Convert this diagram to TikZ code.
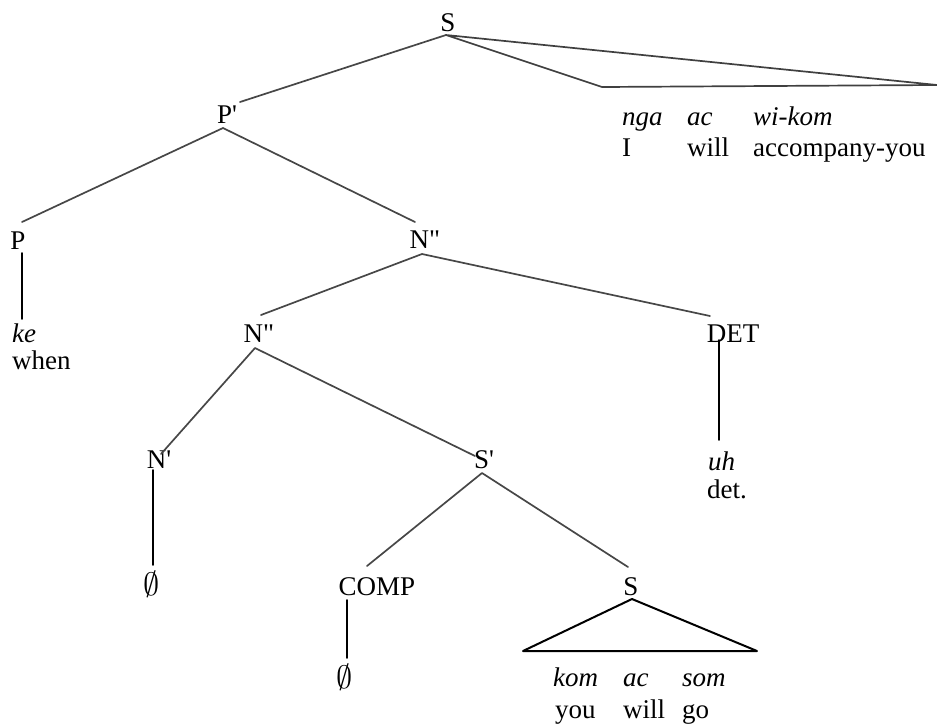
\documentclass[tikz,border=0pt]{standalone}
\usepackage{fontspec}
\setmainfont{Liberation Serif}
\newcommand{\nullsym}{\scalebox{1.3}{$\emptyset$}}
\begin{document}
\begin{tikzpicture}[x=1pt,y=-1pt,
  lab/.style={inner sep=0pt,anchor=base,font=\fontsize{27}{31}\selectfont},
  word/.style={inner sep=0pt,anchor=base west,font=\fontsize{27}{31}\selectfont},
  iword/.style={word,font=\fontsize{27}{31}\selectfont\itshape},
  branch/.style={line width=1.7pt,draw=black!72,line cap=round,line join=round},
  stem/.style={line width=1.8pt,draw=black,line cap=round},
  tri/.style={line width=2pt,draw=black,line join=round},
  tri1/.style={line width=1.7pt,draw=black!75,line join=round}]
\useasboundingbox (0,0) rectangle (937,724);
% labels
\node[lab] (S) at (448,31) {S};
\node[lab] (Pbar) at (227,123) {P\textquotesingle};
\node[lab] (P) at (18,249) {P};
\node[lab] (NPu) at (425,248) {N\textquotedbl};
\node[lab] (NPl) at (259,342) {N\textquotedbl};
\node[lab] (DET) at (733,342) {DET};
\node[lab] (Nbar) at (159,468) {N\textquotesingle};
\node[lab] (Sbar) at (484,468) {S\textquotesingle};
\node[lab] (nullA) at (152,595) {\nullsym};
\node[lab] (COMP) at (377,595) {COMP};
\node[lab] (S2) at (631,595) {S};
\node[lab] (nullB) at (345,688) {\nullsym};
% words
\node[iword] (ke) at (12,342) {ke};
\node[word] (when) at (12,369) {when};
\node[iword] (uh) at (708,470) {uh};
\node[word] (det) at (707,498) {det.};
\node[iword] (nga) at (622,125) {nga};
\node[iword] (ac1) at (687,125) {ac};
\node[iword] (wikom) at (753,125) {wi-kom};
\node[word] (I) at (622,156) {I};
\node[word] (will1) at (687,156) {will};
\node[word] (acc) at (753,156) {accompany-you};
\node[iword] (kom) at (553,686) {kom};
\node[iword] (ac2) at (623,686) {ac};
\node[iword] (som) at (682,686) {som};
\node[word] (you) at (555,718) {you};
\node[word] (will2) at (623,718) {will};
\node[word] (go) at (682,718) {go};
% connector end points
\coordinate (Sa) at (446,35);
\coordinate (Pbt) at (240,102);
\coordinate (Pba) at (223,128);
\coordinate (Pt) at (22,222);
\coordinate (NPut) at (415,222);
\coordinate (NPua) at (422,254);
\coordinate (NPlt) at (261,315);
\coordinate (DETt) at (710,316);
\coordinate (NPla) at (255,348);
\coordinate (Nbt) at (161,454);
\coordinate (Sbt) at (475,456);
\coordinate (Sba) at (482,473);
\coordinate (COMPt) at (367,566);
\coordinate (S2t) at (628,567);
\coordinate (S2a) at (632,599);
\coordinate (T2l) at (523,651);
\coordinate (T2r) at (757,651);
\coordinate (T1l) at (602,87);
\coordinate (T1r) at (937,85);
\coordinate (Ps) at (22,253);
\coordinate (Pe) at (22,319);
\coordinate (Ns) at (153,470);
\coordinate (Ne) at (153,565);
\coordinate (Cs) at (347,600);
\coordinate (Ce) at (347,658);
\coordinate (Ds) at (719,340);
\coordinate (De) at (719,440);
% branches
\draw[branch] (Pbt) -- (Sa);
\draw[tri1] (T1l) -- (Sa) -- (T1r) -- cycle;
\draw[branch] (Pt) -- (Pba) -- (NPut);
\draw[branch] (NPlt) -- (NPua) -- (DETt);
\draw[branch] (Nbt) -- (NPla) -- (Sbt);
\draw[branch] (COMPt) -- (Sba) -- (S2t);
\draw[tri] (S2a) -- (T2l) -- (T2r) -- cycle;
\draw[stem] (Ps) -- (Pe);
\draw[stem] (Ns) -- (Ne);
\draw[stem] (Cs) -- (Ce);
\draw[stem] (Ds) -- (De);
\end{tikzpicture}
\end{document}
